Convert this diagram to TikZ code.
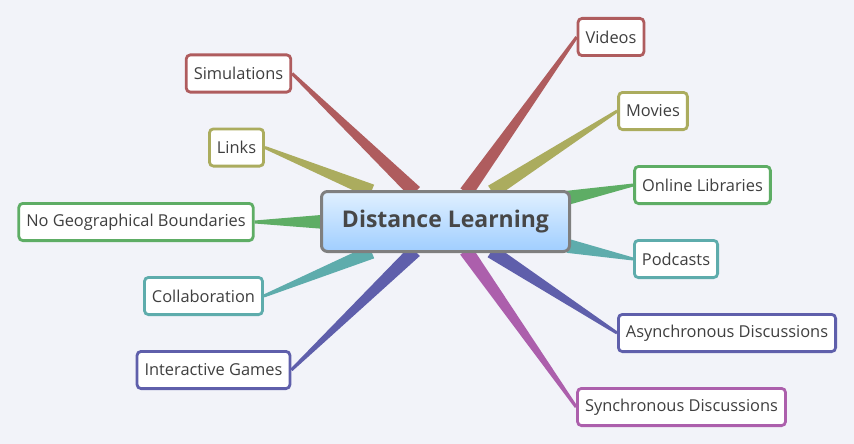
\documentclass[tikz,border=0pt]{standalone}
\usepackage{fontspec}
\setmainfont{Open Sans}
\usetikzlibrary{calc}
\definecolor{paper}{HTML}{F2F3F9}
\definecolor{ink}{HTML}{3F3F3F}
\definecolor{hubink}{HTML}{474747}
\definecolor{hubline}{HTML}{7F7F7F}
\definecolor{hubtop}{HTML}{E0F0FF}
\definecolor{hubbot}{HTML}{A0CEFF}
\definecolor{cred}{HTML}{AF5C5E}
\definecolor{colive}{HTML}{ABAC5E}
\definecolor{cgreen}{HTML}{5EAD65}
\definecolor{cteal}{HTML}{5EACAC}
\definecolor{cblue}{HTML}{5F5FAB}
\definecolor{cpurple}{HTML}{AC5FAC}
\pgfdeclarelayer{paperlayer}
\pgfdeclarelayer{branchlayer}
\pgfsetlayers{paperlayer,branchlayer,main}
\tikzset{
  hub/.style={draw=hubline, line width=3pt, rounded corners=6pt,
    top color=hubtop, bottom color=hubbot, minimum width=248pt,
    minimum height=60pt, text=hubink, font=\bfseries\fontsize{23}{27}\selectfont},
  leaf/.style={draw=#1, fill=white, line width=2.8pt, rounded corners=4pt,
    inner xsep=7.5pt, minimum height=37.2pt, text=ink,
    font=\fontsize{16.4}{19}\selectfont}
}
% tapered branch from a leaf anchor to the hub border
\newcommand\taper[2]{%
  \path (#1) -- (hub) coordinate[pos=1] (tb);
  \coordinate (te) at ($(tb)!-3pt!(#1)$);
  \fill[#2] ($(#1)!1.5pt!90:(te)$) -- ($(te)!7pt!-90:(#1)$)
    -- ($(te)!7pt!90:(#1)$) -- ($(#1)!1.5pt!-90:(te)$) -- cycle;
}
\begin{document}
\begin{tikzpicture}[x=1pt, y=-1pt]
  \useasboundingbox (0,0) rectangle (854,444);
  \begin{pgfonlayer}{paperlayer}
    \fill[paper] (0,0) rectangle (854,444);
  \end{pgfonlayer}

  \node[hub] (hub) at (445.5,221.5) {Distance Learning};

  % left side
  \node[leaf=cred] (sim) at (238.5,73.5) {Simulations};
  \node[leaf=colive] (links) at (236.5,147.5) {Links};
  \node[leaf=cgreen] (geo) at (136,222) {No Geographical Boundaries};
  \node[leaf=cteal] (collab) at (203.5,296) {Collaboration};
  \node[leaf=cblue] (games) at (213.5,370) {Interactive Games};

  % right side
  \node[leaf=cred] (videos) at (611,37) {Videos};
  \node[leaf=colive] (movies) at (653,111) {Movies};
  \node[leaf=cgreen] (libs) at (702.5,185) {Online Libraries};
  \node[leaf=cteal] (pods) at (676,259) {Podcasts};
  \node[leaf=cblue] (async) at (727,333) {Asynchronous Discussions};
  \node[leaf=cpurple] (sync) at (681.5,407) {Synchronous Discussions};

  \begin{pgfonlayer}{branchlayer}
    \taper{sim.east}{cred}
    \taper{links.east}{colive}
    \taper{geo.east}{cgreen}
    \taper{collab.east}{cteal}
    \taper{games.east}{cblue}
    \taper{videos.west}{cred}
    \taper{movies.west}{colive}
    \taper{libs.west}{cgreen}
    \taper{pods.west}{cteal}
    \taper{async.west}{cblue}
    \taper{sync.west}{cpurple}
  \end{pgfonlayer}
\end{tikzpicture}
\end{document}
